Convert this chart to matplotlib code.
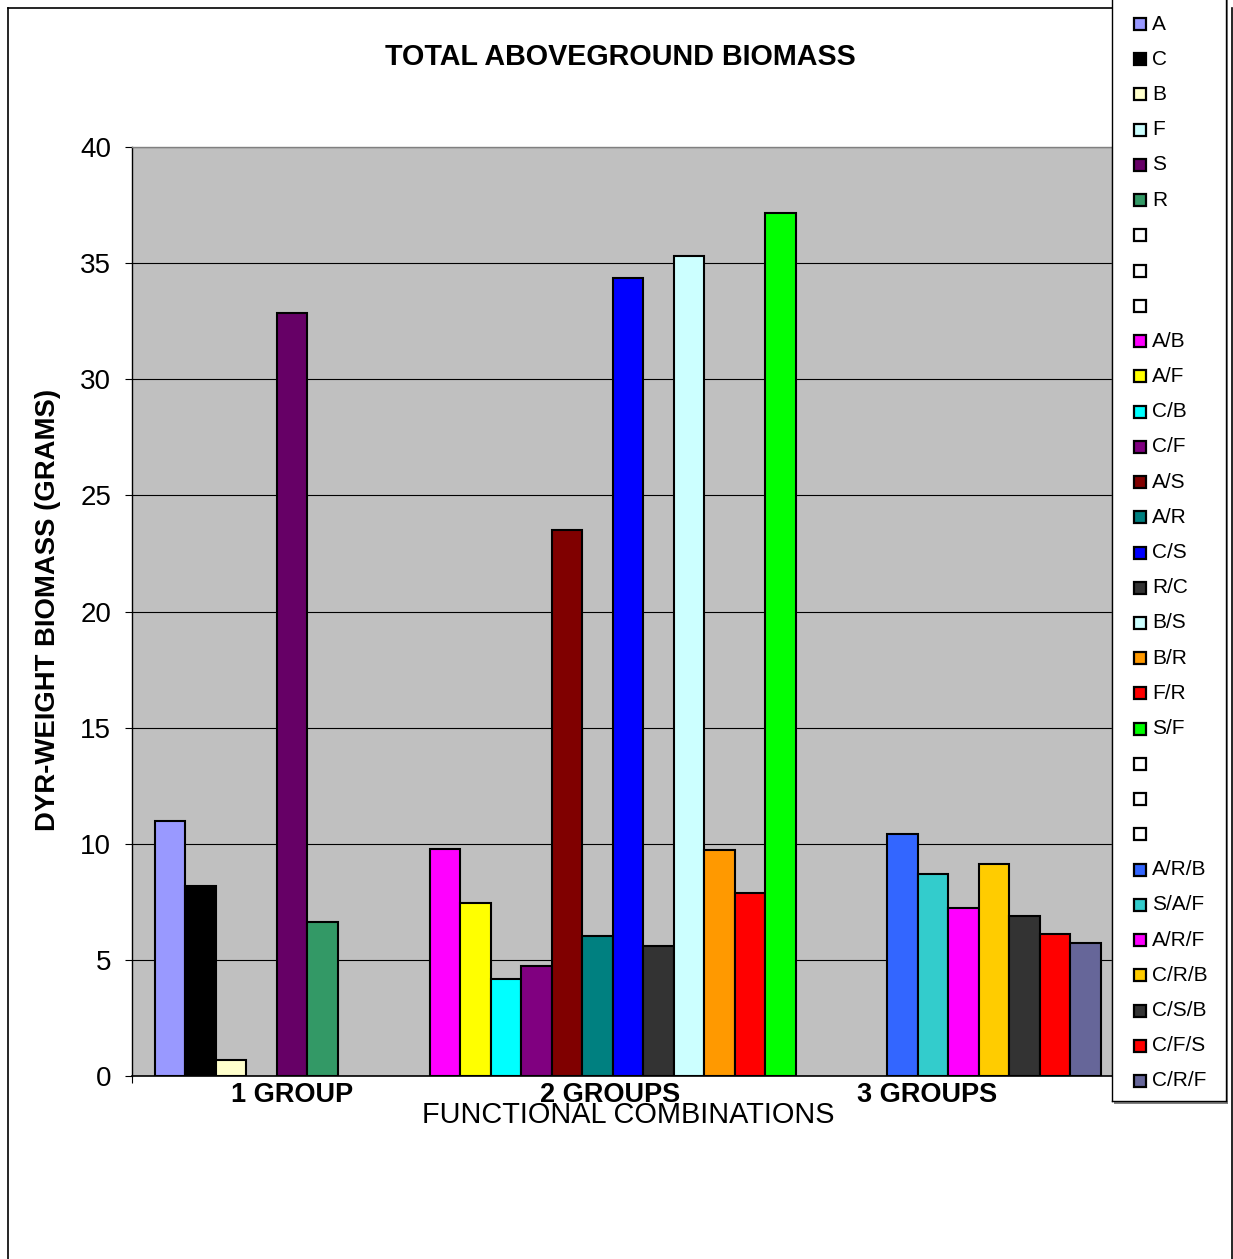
import numpy as np
import matplotlib
matplotlib.use("Agg")
import matplotlib.pyplot as plt
from matplotlib.patches import Rectangle
from matplotlib.lines import Line2D

plt.rcParams['font.family'] = ['Liberation Sans', 'DejaVu Sans']

# series in legend order (blank entries are empty spacer series)
series = ['A', 'C', 'B', 'F', 'S', 'R', '', '', '',
          'A/B', 'A/F', 'C/B', 'C/F', 'A/S', 'A/R', 'C/S', 'R/C', 'B/S', 'B/R', 'F/R', 'S/F',
          '', '', '',
          'A/R/B', 'S/A/F', 'A/R/F', 'C/R/B', 'C/S/B', 'C/F/S', 'C/R/F']
biomass = [11.0, 8.2, 0.7, np.nan, 32.85, 6.65, np.nan, np.nan, np.nan,
           9.77, 7.45, 4.18, 4.72, 23.5, 6.03, 34.35, 5.6, 35.3, 9.75, 7.9, 37.15,
           np.nan, np.nan, np.nan,
           10.4, 8.7, 7.23, 9.12, 6.88, 6.1, 5.72]
colors = ['#9999FF', '#000000', '#FFFFCC', '#CCFFFF', '#660066', '#339966',
          '#FFFFFF', '#FFFFFF', '#FFFFFF',
          '#FF00FF', '#FFFF00', '#00FFFF', '#800080', '#800000', '#008080', '#0000FF',
          '#333333', '#CCFFFF', '#FF9900', '#FF0000', '#00FF00',
          '#FFFFFF', '#FFFFFF', '#FFFFFF',
          '#3366FF', '#33CCCC', '#FF00FF', '#FFCC00', '#333333', '#FF0000', '#666699']
groups = ['1 GROUP', '2 GROUPS', '3 GROUPS']
group_pos = [4.0, 14.4, 24.8]

W, H = 1233, 1259
fig = plt.figure(figsize=(W / 100, H / 100), dpi=100)
fig.patch.set_facecolor('white')

# plot area
ax = fig.add_axes([132 / W, 1 - 1076 / H, 980 / W, 929 / H])
ax.set_facecolor('#C0C0C0')

x = np.arange(len(series))
vals = np.array(biomass, dtype=float)
mask = ~np.isnan(vals)
ax.bar(x[mask], vals[mask], width=1.0, color=np.array(colors)[mask],
       edgecolor='black', linewidth=1.5, zorder=3)

ax.set_xlim(-1.25, 30.86)
ax.set_ylim(0, 40)
ax.set_yticks(np.arange(0, 41, 5))
ax.yaxis.grid(True, color='black', linewidth=0.8)
ax.set_axisbelow(True)
ax.tick_params(axis='y', direction='out', length=5, width=0.8, pad=10, labelsize=20)

ax.set_xticks(group_pos)
ax.set_xticklabels(groups, fontsize=19.5, fontweight='bold')
ax.tick_params(axis='x', which='major', length=0, pad=4)
ax.set_xticks([-1.25], minor=True)
ax.tick_params(axis='x', which='minor', direction='out', length=5, width=0.8)

for s in ['top', 'right']:
    ax.spines[s].set_color('#808080')
    ax.spines[s].set_linewidth(1.0)
ax.spines['left'].set_linewidth(1.0)
ax.spines['bottom'].set_linewidth(1.2)

fig.text(620 / W, 1 - 57 / H, 'TOTAL ABOVEGROUND BIOMASS', ha='center', va='center',
         fontsize=20.7, fontweight='bold')
fig.text(48 / W, 1 - 610 / H, 'DYR-WEIGHT BIOMASS (GRAMS)', ha='center', va='center',
         rotation=90, fontsize=19.8, fontweight='bold')
fig.text(628 / W, 1 - 1115 / H, 'FUNCTIONAL COMBINATIONS', ha='center', va='center',
         fontsize=20.8)

# chart frame (runs off the bottom of the image)
frame_kw = dict(color='black', linewidth=1.2, transform=fig.transFigure)
fig.add_artist(Line2D([7.5 / W, 7.5 / W], [1 - 7.5 / H, -0.01], **frame_kw))
fig.add_artist(Line2D([7.5 / W, 1112 / W], [1 - 7.5 / H, 1 - 7.5 / H], **frame_kw))
fig.add_artist(Line2D([1231.5 / W, 1231.5 / W], [1 - 7.5 / H, -0.01], **frame_kw))

# legend box, top edge sits above the image
top_px = -25
fig.add_artist(Rectangle((1114 / W, 1 - 1103.5 / H), 114 / W, (1103.5 - top_px) / H,
                         transform=fig.transFigure, facecolor='#808080',
                         edgecolor='none', zorder=1))
lax = fig.add_axes([1112 / W, 1 - 1101 / H, 114 / W, (1101 - top_px) / H], zorder=2)
lax.set_xlim(0, 114)
lax.set_ylim(1101, top_px)
lax.set_xticks([])
lax.set_yticks([])
lax.set_facecolor('white')
for s in lax.spines.values():
    s.set_linewidth(1.0)

step = (1081 - 24) / (len(series) - 1)
for k, (name, c) in enumerate(zip(series, colors)):
    yc = 24 + step * k
    lax.add_patch(Rectangle((22, yc - 6), 12, 12, facecolor=c, edgecolor='black',
                            linewidth=1.6))
    if name:
        lax.text(40, yc, name, ha='left', va='center', fontsize=15)

fig.savefig('out.png', dpi=100)
